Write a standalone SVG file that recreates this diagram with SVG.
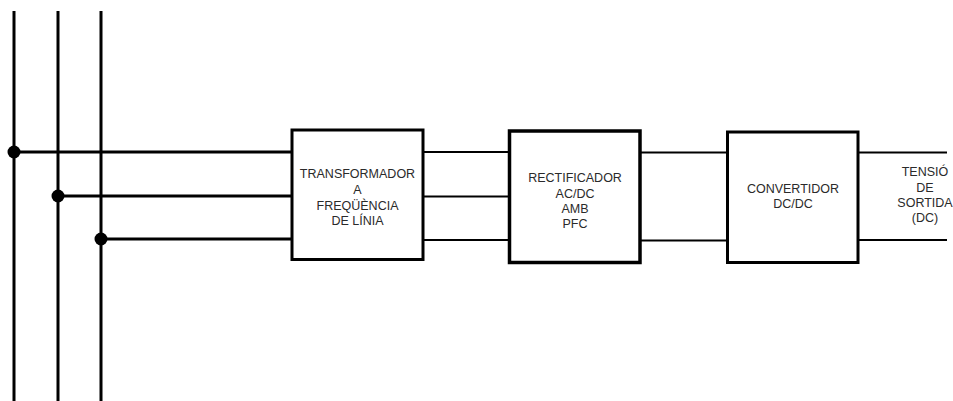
<svg xmlns="http://www.w3.org/2000/svg" width="953" height="401" viewBox="0 0 953 401">
<style>
.w{stroke:#000;stroke-width:3;fill:none;stroke-linecap:butt}
.t{stroke:#000;stroke-width:2;fill:none}
.b{fill:#fff;stroke:#000;stroke-width:3}
.d{fill:#000}
text{font-family:"Liberation Sans",Arial,sans-serif;font-size:12.5px;fill:#2a2a2a;text-anchor:middle}
</style>
<rect width="953" height="401" fill="#fff"/>
<g id="connectors">
<line class="w" x1="14" y1="11" x2="14" y2="401"/>
<line class="w" x1="58" y1="11" x2="58" y2="401"/>
<line class="w" x1="101" y1="11" x2="101" y2="401"/>
<line class="w" x1="14" y1="152" x2="292" y2="152"/>
<line class="w" x1="58" y1="196" x2="292" y2="196"/>
<line class="w" x1="101" y1="239" x2="292" y2="239"/>
<circle class="d" cx="14" cy="152" r="6.5"/>
<circle class="d" cx="58" cy="196" r="6.5"/>
<circle class="d" cx="101" cy="239" r="6.5"/>
<line class="t" x1="423" y1="152" x2="509" y2="152"/>
<line class="t" x1="423" y1="196.5" x2="509" y2="196.5"/>
<line class="t" x1="423" y1="240" x2="509" y2="240"/>
<line class="t" x1="640" y1="152.5" x2="727" y2="152.5"/>
<line class="t" x1="640" y1="240.5" x2="727" y2="240.5"/>
<line class="t" x1="858" y1="152.5" x2="947" y2="152.5"/>
<line class="t" x1="858" y1="240" x2="947" y2="240"/>
</g>
<g id="transformador">
<rect class="b" x="292" y="130" width="131" height="129.5"/>
<text x="357.5" y="178">TRANSFORMADOR</text>
<text x="357.5" y="194">A</text>
<text x="357.5" y="210">FREQÜÈNCIA</text>
<text x="357.5" y="225">DE LÍNIA</text>
</g>
<g id="rectificador">
<rect class="b" x="509.5" y="131" width="130.5" height="131.5" style="stroke-width:3.5"/>
<text x="575" y="182">RECTIFICADOR</text>
<text x="575" y="197.5">AC/DC</text>
<text x="575" y="213">AMB</text>
<text x="575" y="228">PFC</text>
</g>
<g id="convertidor">
<rect class="b" x="727.5" y="132" width="130.5" height="130.5"/>
<text x="793" y="192.5">CONVERTIDOR</text>
<text x="793" y="208">DC/DC</text>
</g>
<g id="sortida">
<text x="925" y="176">TENSIÓ</text>
<text x="925" y="191.5">DE</text>
<text x="925" y="207">SORTIDA</text>
<text x="925" y="222">(DC)</text>
</g>
</svg>
